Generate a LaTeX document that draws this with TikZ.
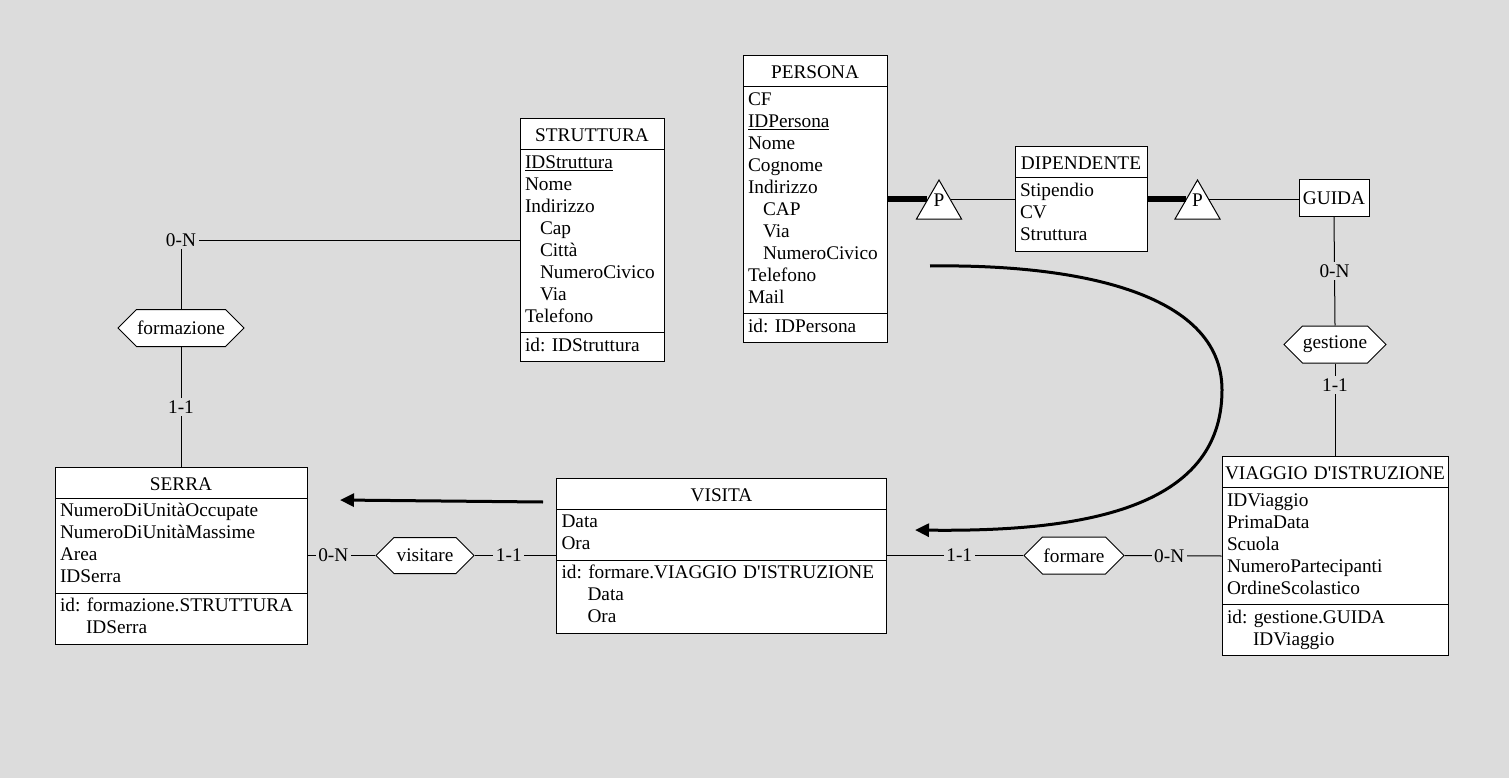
\documentclass[tikz,border=0pt]{standalone}
\usepackage{fontspec}
\setmainfont{Liberation Serif}
\usetikzlibrary{shapes.multipart}
\usetikzlibrary{shapes.symbols, shapes.geometric}
\usetikzlibrary{arrows.meta}

\definecolor{sfondo}{RGB}{220,220,220}
\newcommand{\titolo}[1]{\makebox[\hsize]{\rule[-4.5pt]{0pt}{24pt}#1}}
\tikzset{
  testo/.style={font=\fontsize{19.3}{22}\selectfont\frenchspacing},
  entita/.style={testo,rectangle split,rectangle split parts=3,draw,fill=white,line width=1pt,inner xsep=5pt,inner ysep=3pt,align=left},
  relazione/.style={testo,signal,signal to=east and west,signal pointer angle=90,draw,fill=white,line width=1pt,inner sep=0pt},
  gerarchia/.style={regular polygon,regular polygon sides=3,draw,fill=white,line width=1pt,inner sep=0pt,minimum size=52pt,label={[testo,yshift=6pt]center:P}},
  card/.style={testo,fill=sfondo,inner sep=2.5pt},
  linea/.style={line width=1pt},
  isa/.style={line width=6pt},
  nota/.style={line width=3pt,-{Triangle[length=14pt,width=13pt]}}
}

\begin{document}
\begin{tikzpicture}[x=1pt,y=-1pt]
\fill[sfondo] (0,0) rectangle (1509,778);
\useasboundingbox (0,0) rectangle (1509,778);

\node[entita,text width=134pt] (struttura) at (592,240) {\titolo{STRUTTURA}
\nodepart{two}\strut\underline{IDStruttura}\\
Nome\\
Indirizzo\\
\hspace*{15pt}Cap\\
\hspace*{15pt}Città\\
\hspace*{15pt}NumeroCivico\\
\hspace*{15pt}Via\\
Telefono\strut
\nodepart{three}\strut id: IDStruttura\strut};

\node[entita,text width=134pt] (persona) at (815,199) {\titolo{PERSONA}
\nodepart{two}\strut CF\\
\underline{IDPersona}\\
Nome\\
Cognome\\
Indirizzo\\
\hspace*{15pt}CAP\\
\hspace*{15pt}Via\\
\hspace*{15pt}NumeroCivico\\
Telefono\\
Mail\strut
\nodepart{three}\strut id: IDPersona\strut};

\node[entita,rectangle split parts=2,text width=122pt] (dipendente) at (1081,199) {\titolo{DIPENDENTE}
\nodepart{two}\strut Stipendio\\
CV\\
Struttura\strut};

\node[testo,draw,fill=white,line width=1pt,minimum width=70pt,minimum height=36pt] (guida) at (1334,198) {GUIDA};

\node[entita,text width=242pt] (serra) at (181,555.5) {\titolo{SERRA}
\nodepart{two}\strut NumeroDiUnitàOccupate\\
NumeroDiUnitàMassime\\
Area\\
IDSerra\strut
\nodepart{three}\strut id: formazione.STRUTTURA\\
\hspace*{26pt}IDSerra\strut};

\node[entita,text width=320pt] (visita) at (721.5,555.5) {\titolo{VISITA}
\nodepart{two}\strut Data\\
Ora\strut
\nodepart{three}\strut id: formare.VIAGGIO D\textquotesingle ISTRUZIONE\\
\hspace*{26pt}Data\\
\hspace*{26pt}Ora\strut};

\node[entita,text width=216pt] (viaggio) at (1335,556) {\titolo{VIAGGIO D\textquotesingle ISTRUZIONE}
\nodepart{two}\strut IDViaggio\\
PrimaData\\
Scuola\\
NumeroPartecipanti\\
OrdineScolastico\strut
\nodepart{three}\strut id: gestione.GUIDA\\
\hspace*{26pt}IDViaggio\strut};

\node[relazione,minimum width=126pt,minimum height=37pt] (formazione) at (181,328) {formazione};
\node[relazione,minimum width=98pt,minimum height=36pt] (visitare) at (425,555.5) {visitare};
\node[relazione,minimum width=100pt,minimum height=37pt] (formare) at (1074,555.5) {formare};
\node[relazione,minimum width=102pt,minimum height=37pt] (gestione) at (1335,344.5) {gestione};

\node[gerarchia] (p1) at (939,206) {};
\node[gerarchia] (p2) at (1197.5,206) {};

\draw[isa] (persona.east |- p1.side 1) -- (p1.side 1);
\draw[linea] (p1.side 3) -- (p1.side 3 -| dipendente.west);
\draw[isa] (dipendente.east |- p2.side 1) -- (p2.side 1);
\draw[linea] (p2.side 3) -- (p2.side 3 -| guida.west);

\draw[linea] (struttura.west) -| node[card]{0-N} (formazione.north);
\draw[linea] (formazione.south) -- node[card]{1-1} (serra.north);
\draw[linea] (serra.east) -- node[card,pos=0.38]{0-N} (visitare.west);
\draw[linea] (visitare.east) -- node[card,pos=0.42]{1-1} (visita.west);
\draw[linea] (visita.east) -- node[card,pos=0.53]{1-1} (formare.west);
\draw[linea] (formare.east) -- node[card,pos=0.46]{0-N} (viaggio.west);
\draw[linea] (guida.south) -- node[card]{0-N} (gestione.north);
\draw[linea] (gestione.south) -- node[card,pos=0.23]{1-1} (viaggio.north);

\coordinate (frecciaA) at (543,502);
\coordinate (frecciaB) at (340,500);
\draw[nota] (frecciaA) -- (frecciaB);
\coordinate (curvaA) at (930,266);
\coordinate (curvaB) at (915,530);
\draw[nota] (curvaA) .. controls (1070,264) and (1222,290) .. (1222,390) .. controls (1222,510) and (1080,532) .. (curvaB);

\end{tikzpicture}
\end{document}
